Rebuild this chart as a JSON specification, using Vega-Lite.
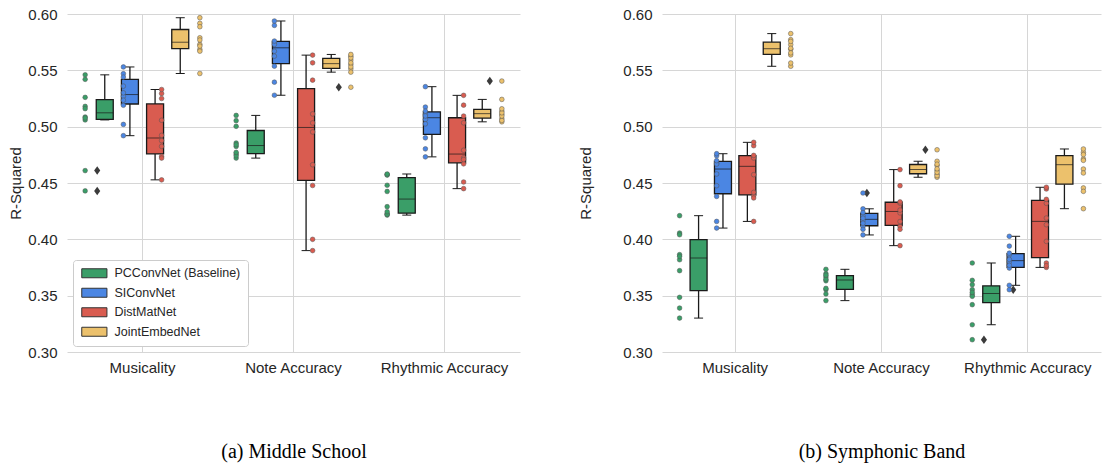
{
  "$schema": "https://vega.github.io/schema/vega-lite/v6.json",
  "background": "white",
  "padding": {"left": 8, "top": 7, "right": 3, "bottom": 5},
  "config": {
    "view": {"stroke": null},
    "font": "Liberation Sans",
    "axis": {"labelFontSize": 15, "labelColor": "#262626", "titleFontSize": 15, "titleFontWeight": "normal", "titleColor": "#262626", "gridColor": "#d6d6d6", "gridWidth": 1, "domain": false, "ticks": false},
    "concat": {"spacing": 58}
  },
  "resolve": {"scale": {"color": "independent"}, "legend": {"color": "independent"}},
  "datasets": {
    "ms": [
      {"task":"Musicality","model":"PCConvNet (Baseline)","fold":1,"r2":0.443},{"task":"Musicality","model":"PCConvNet (Baseline)","fold":2,"r2":0.461},{"task":"Musicality","model":"PCConvNet (Baseline)","fold":3,"r2":0.506},{"task":"Musicality","model":"PCConvNet (Baseline)","fold":4,"r2":0.5077},{"task":"Musicality","model":"PCConvNet (Baseline)","fold":5,"r2":0.5086},{"task":"Musicality","model":"PCConvNet (Baseline)","fold":6,"r2":0.516},{"task":"Musicality","model":"PCConvNet (Baseline)","fold":7,"r2":0.518},{"task":"Musicality","model":"PCConvNet (Baseline)","fold":8,"r2":0.526},{"task":"Musicality","model":"PCConvNet (Baseline)","fold":9,"r2":0.542},{"task":"Musicality","model":"PCConvNet (Baseline)","fold":10,"r2":0.546},
      {"task":"Musicality","model":"SIConvNet","fold":1,"r2":0.492},{"task":"Musicality","model":"SIConvNet","fold":2,"r2":0.502},{"task":"Musicality","model":"SIConvNet","fold":3,"r2":0.519},{"task":"Musicality","model":"SIConvNet","fold":4,"r2":0.5235},{"task":"Musicality","model":"SIConvNet","fold":5,"r2":0.527},{"task":"Musicality","model":"SIConvNet","fold":6,"r2":0.530},{"task":"Musicality","model":"SIConvNet","fold":7,"r2":0.536},{"task":"Musicality","model":"SIConvNet","fold":8,"r2":0.544},{"task":"Musicality","model":"SIConvNet","fold":9,"r2":0.547},{"task":"Musicality","model":"SIConvNet","fold":10,"r2":0.553},
      {"task":"Musicality","model":"DistMatNet","fold":1,"r2":0.4528},{"task":"Musicality","model":"DistMatNet","fold":2,"r2":0.4721},{"task":"Musicality","model":"DistMatNet","fold":3,"r2":0.4736},{"task":"Musicality","model":"DistMatNet","fold":4,"r2":0.4825},{"task":"Musicality","model":"DistMatNet","fold":5,"r2":0.4876},{"task":"Musicality","model":"DistMatNet","fold":6,"r2":0.4923},{"task":"Musicality","model":"DistMatNet","fold":7,"r2":0.5057},{"task":"Musicality","model":"DistMatNet","fold":8,"r2":0.525},{"task":"Musicality","model":"DistMatNet","fold":9,"r2":0.5294},{"task":"Musicality","model":"DistMatNet","fold":10,"r2":0.533},
      {"task":"Musicality","model":"JointEmbedNet","fold":1,"r2":0.5472},{"task":"Musicality","model":"JointEmbedNet","fold":2,"r2":0.567},{"task":"Musicality","model":"JointEmbedNet","fold":3,"r2":0.5685},{"task":"Musicality","model":"JointEmbedNet","fold":4,"r2":0.5715},{"task":"Musicality","model":"JointEmbedNet","fold":5,"r2":0.573},{"task":"Musicality","model":"JointEmbedNet","fold":6,"r2":0.5769},{"task":"Musicality","model":"JointEmbedNet","fold":7,"r2":0.5789},{"task":"Musicality","model":"JointEmbedNet","fold":8,"r2":0.5887},{"task":"Musicality","model":"JointEmbedNet","fold":9,"r2":0.5917},{"task":"Musicality","model":"JointEmbedNet","fold":10,"r2":0.5967},
      {"task":"Note Accuracy","model":"PCConvNet (Baseline)","fold":1,"r2":0.4721},{"task":"Note Accuracy","model":"PCConvNet (Baseline)","fold":2,"r2":0.4742},{"task":"Note Accuracy","model":"PCConvNet (Baseline)","fold":3,"r2":0.4757},{"task":"Note Accuracy","model":"PCConvNet (Baseline)","fold":4,"r2":0.4772},{"task":"Note Accuracy","model":"PCConvNet (Baseline)","fold":5,"r2":0.4825},{"task":"Note Accuracy","model":"PCConvNet (Baseline)","fold":6,"r2":0.484},{"task":"Note Accuracy","model":"PCConvNet (Baseline)","fold":7,"r2":0.4855},{"task":"Note Accuracy","model":"PCConvNet (Baseline)","fold":8,"r2":0.5003},{"task":"Note Accuracy","model":"PCConvNet (Baseline)","fold":9,"r2":0.5053},{"task":"Note Accuracy","model":"PCConvNet (Baseline)","fold":10,"r2":0.51},
      {"task":"Note Accuracy","model":"SIConvNet","fold":1,"r2":0.5279},{"task":"Note Accuracy","model":"SIConvNet","fold":2,"r2":0.5395},{"task":"Note Accuracy","model":"SIConvNet","fold":3,"r2":0.5537},{"task":"Note Accuracy","model":"SIConvNet","fold":4,"r2":0.5626},{"task":"Note Accuracy","model":"SIConvNet","fold":5,"r2":0.567},{"task":"Note Accuracy","model":"SIConvNet","fold":6,"r2":0.573},{"task":"Note Accuracy","model":"SIConvNet","fold":7,"r2":0.5745},{"task":"Note Accuracy","model":"SIConvNet","fold":8,"r2":0.576},{"task":"Note Accuracy","model":"SIConvNet","fold":9,"r2":0.5899},{"task":"Note Accuracy","model":"SIConvNet","fold":10,"r2":0.5938},
      {"task":"Note Accuracy","model":"DistMatNet","fold":1,"r2":0.39},{"task":"Note Accuracy","model":"DistMatNet","fold":2,"r2":0.40},{"task":"Note Accuracy","model":"DistMatNet","fold":3,"r2":0.4478},{"task":"Note Accuracy","model":"DistMatNet","fold":4,"r2":0.4662},{"task":"Note Accuracy","model":"DistMatNet","fold":5,"r2":0.4953},{"task":"Note Accuracy","model":"DistMatNet","fold":6,"r2":0.5033},{"task":"Note Accuracy","model":"DistMatNet","fold":7,"r2":0.5113},{"task":"Note Accuracy","model":"DistMatNet","fold":8,"r2":0.5413},{"task":"Note Accuracy","model":"DistMatNet","fold":9,"r2":0.5567},{"task":"Note Accuracy","model":"DistMatNet","fold":10,"r2":0.5635},
      {"task":"Note Accuracy","model":"JointEmbedNet","fold":1,"r2":0.535},{"task":"Note Accuracy","model":"JointEmbedNet","fold":2,"r2":0.5484},{"task":"Note Accuracy","model":"JointEmbedNet","fold":3,"r2":0.5513},{"task":"Note Accuracy","model":"JointEmbedNet","fold":4,"r2":0.5531},{"task":"Note Accuracy","model":"JointEmbedNet","fold":5,"r2":0.5552},{"task":"Note Accuracy","model":"JointEmbedNet","fold":6,"r2":0.5567},{"task":"Note Accuracy","model":"JointEmbedNet","fold":7,"r2":0.5591},{"task":"Note Accuracy","model":"JointEmbedNet","fold":8,"r2":0.5611},{"task":"Note Accuracy","model":"JointEmbedNet","fold":9,"r2":0.5626},{"task":"Note Accuracy","model":"JointEmbedNet","fold":10,"r2":0.5641},
      {"task":"Rhythmic Accuracy","model":"PCConvNet (Baseline)","fold":1,"r2":0.4215},{"task":"Rhythmic Accuracy","model":"PCConvNet (Baseline)","fold":2,"r2":0.4222},{"task":"Rhythmic Accuracy","model":"PCConvNet (Baseline)","fold":3,"r2":0.4228},{"task":"Rhythmic Accuracy","model":"PCConvNet (Baseline)","fold":4,"r2":0.4245},{"task":"Rhythmic Accuracy","model":"PCConvNet (Baseline)","fold":5,"r2":0.429},{"task":"Rhythmic Accuracy","model":"PCConvNet (Baseline)","fold":6,"r2":0.4425},{"task":"Rhythmic Accuracy","model":"PCConvNet (Baseline)","fold":7,"r2":0.448},{"task":"Rhythmic Accuracy","model":"PCConvNet (Baseline)","fold":8,"r2":0.457},{"task":"Rhythmic Accuracy","model":"PCConvNet (Baseline)","fold":9,"r2":0.4575},{"task":"Rhythmic Accuracy","model":"PCConvNet (Baseline)","fold":10,"r2":0.458},
      {"task":"Rhythmic Accuracy","model":"SIConvNet","fold":1,"r2":0.4732},{"task":"Rhythmic Accuracy","model":"SIConvNet","fold":2,"r2":0.4803},{"task":"Rhythmic Accuracy","model":"SIConvNet","fold":3,"r2":0.4901},{"task":"Rhythmic Accuracy","model":"SIConvNet","fold":4,"r2":0.5025},{"task":"Rhythmic Accuracy","model":"SIConvNet","fold":5,"r2":0.5064},{"task":"Rhythmic Accuracy","model":"SIConvNet","fold":6,"r2":0.5095},{"task":"Rhythmic Accuracy","model":"SIConvNet","fold":7,"r2":0.5108},{"task":"Rhythmic Accuracy","model":"SIConvNet","fold":8,"r2":0.5138},{"task":"Rhythmic Accuracy","model":"SIConvNet","fold":9,"r2":0.5174},{"task":"Rhythmic Accuracy","model":"SIConvNet","fold":10,"r2":0.5355},
      {"task":"Rhythmic Accuracy","model":"DistMatNet","fold":1,"r2":0.445},{"task":"Rhythmic Accuracy","model":"DistMatNet","fold":2,"r2":0.4509},{"task":"Rhythmic Accuracy","model":"DistMatNet","fold":3,"r2":0.467},{"task":"Rhythmic Accuracy","model":"DistMatNet","fold":4,"r2":0.4708},{"task":"Rhythmic Accuracy","model":"DistMatNet","fold":5,"r2":0.4723},{"task":"Rhythmic Accuracy","model":"DistMatNet","fold":6,"r2":0.4791},{"task":"Rhythmic Accuracy","model":"DistMatNet","fold":7,"r2":0.5034},{"task":"Rhythmic Accuracy","model":"DistMatNet","fold":8,"r2":0.5094},{"task":"Rhythmic Accuracy","model":"DistMatNet","fold":9,"r2":0.5191},{"task":"Rhythmic Accuracy","model":"DistMatNet","fold":10,"r2":0.5278},
      {"task":"Rhythmic Accuracy","model":"JointEmbedNet","fold":1,"r2":0.5043},{"task":"Rhythmic Accuracy","model":"JointEmbedNet","fold":2,"r2":0.5055},{"task":"Rhythmic Accuracy","model":"JointEmbedNet","fold":3,"r2":0.507},{"task":"Rhythmic Accuracy","model":"JointEmbedNet","fold":4,"r2":0.5094},{"task":"Rhythmic Accuracy","model":"JointEmbedNet","fold":5,"r2":0.5108},{"task":"Rhythmic Accuracy","model":"JointEmbedNet","fold":6,"r2":0.5123},{"task":"Rhythmic Accuracy","model":"JointEmbedNet","fold":7,"r2":0.5138},{"task":"Rhythmic Accuracy","model":"JointEmbedNet","fold":8,"r2":0.5159},{"task":"Rhythmic Accuracy","model":"JointEmbedNet","fold":9,"r2":0.5242},{"task":"Rhythmic Accuracy","model":"JointEmbedNet","fold":10,"r2":0.5405}
    ],
    "sb": [
      {"task":"Musicality","model":"PCConvNet (Baseline)","fold":1,"r2":0.3301},{"task":"Musicality","model":"PCConvNet (Baseline)","fold":2,"r2":0.339},{"task":"Musicality","model":"PCConvNet (Baseline)","fold":3,"r2":0.3485},{"task":"Musicality","model":"PCConvNet (Baseline)","fold":4,"r2":0.3722},{"task":"Musicality","model":"PCConvNet (Baseline)","fold":5,"r2":0.3819},{"task":"Musicality","model":"PCConvNet (Baseline)","fold":6,"r2":0.3849},{"task":"Musicality","model":"PCConvNet (Baseline)","fold":7,"r2":0.3864},{"task":"Musicality","model":"PCConvNet (Baseline)","fold":8,"r2":0.4041},{"task":"Musicality","model":"PCConvNet (Baseline)","fold":9,"r2":0.4056},{"task":"Musicality","model":"PCConvNet (Baseline)","fold":10,"r2":0.421},
      {"task":"Musicality","model":"SIConvNet","fold":1,"r2":0.41},{"task":"Musicality","model":"SIConvNet","fold":2,"r2":0.4159},{"task":"Musicality","model":"SIConvNet","fold":3,"r2":0.4381},{"task":"Musicality","model":"SIConvNet","fold":4,"r2":0.4476},{"task":"Musicality","model":"SIConvNet","fold":5,"r2":0.458},{"task":"Musicality","model":"SIConvNet","fold":6,"r2":0.4668},{"task":"Musicality","model":"SIConvNet","fold":7,"r2":0.4675},{"task":"Musicality","model":"SIConvNet","fold":8,"r2":0.4698},{"task":"Musicality","model":"SIConvNet","fold":9,"r2":0.4742},{"task":"Musicality","model":"SIConvNet","fold":10,"r2":0.476},
      {"task":"Musicality","model":"DistMatNet","fold":1,"r2":0.4159},{"task":"Musicality","model":"DistMatNet","fold":2,"r2":0.4367},{"task":"Musicality","model":"DistMatNet","fold":3,"r2":0.4387},{"task":"Musicality","model":"DistMatNet","fold":4,"r2":0.4417},{"task":"Musicality","model":"DistMatNet","fold":5,"r2":0.4574},{"task":"Musicality","model":"DistMatNet","fold":6,"r2":0.4722},{"task":"Musicality","model":"DistMatNet","fold":7,"r2":0.4735},{"task":"Musicality","model":"DistMatNet","fold":8,"r2":0.4745},{"task":"Musicality","model":"DistMatNet","fold":9,"r2":0.4831},{"task":"Musicality","model":"DistMatNet","fold":10,"r2":0.4861},
      {"task":"Musicality","model":"JointEmbedNet","fold":1,"r2":0.5536},{"task":"Musicality","model":"JointEmbedNet","fold":2,"r2":0.5565},{"task":"Musicality","model":"JointEmbedNet","fold":3,"r2":0.5637},{"task":"Musicality","model":"JointEmbedNet","fold":4,"r2":0.5655},{"task":"Musicality","model":"JointEmbedNet","fold":5,"r2":0.5688},{"task":"Musicality","model":"JointEmbedNet","fold":6,"r2":0.5696},{"task":"Musicality","model":"JointEmbedNet","fold":7,"r2":0.5728},{"task":"Musicality","model":"JointEmbedNet","fold":8,"r2":0.5757},{"task":"Musicality","model":"JointEmbedNet","fold":9,"r2":0.5772},{"task":"Musicality","model":"JointEmbedNet","fold":10,"r2":0.5826},
      {"task":"Note Accuracy","model":"PCConvNet (Baseline)","fold":1,"r2":0.3456},{"task":"Note Accuracy","model":"PCConvNet (Baseline)","fold":2,"r2":0.3515},{"task":"Note Accuracy","model":"PCConvNet (Baseline)","fold":3,"r2":0.3553},{"task":"Note Accuracy","model":"PCConvNet (Baseline)","fold":4,"r2":0.3565},{"task":"Note Accuracy","model":"PCConvNet (Baseline)","fold":5,"r2":0.3632},{"task":"Note Accuracy","model":"PCConvNet (Baseline)","fold":6,"r2":0.3646},{"task":"Note Accuracy","model":"PCConvNet (Baseline)","fold":7,"r2":0.3665},{"task":"Note Accuracy","model":"PCConvNet (Baseline)","fold":8,"r2":0.3682},{"task":"Note Accuracy","model":"PCConvNet (Baseline)","fold":9,"r2":0.3695},{"task":"Note Accuracy","model":"PCConvNet (Baseline)","fold":10,"r2":0.3734},
      {"task":"Note Accuracy","model":"SIConvNet","fold":1,"r2":0.4039},{"task":"Note Accuracy","model":"SIConvNet","fold":2,"r2":0.4089},{"task":"Note Accuracy","model":"SIConvNet","fold":3,"r2":0.4113},{"task":"Note Accuracy","model":"SIConvNet","fold":4,"r2":0.4143},{"task":"Note Accuracy","model":"SIConvNet","fold":5,"r2":0.4167},{"task":"Note Accuracy","model":"SIConvNet","fold":6,"r2":0.4188},{"task":"Note Accuracy","model":"SIConvNet","fold":7,"r2":0.4208},{"task":"Note Accuracy","model":"SIConvNet","fold":8,"r2":0.4238},{"task":"Note Accuracy","model":"SIConvNet","fold":9,"r2":0.4271},{"task":"Note Accuracy","model":"SIConvNet","fold":10,"r2":0.4411},
      {"task":"Note Accuracy","model":"DistMatNet","fold":1,"r2":0.3944},{"task":"Note Accuracy","model":"DistMatNet","fold":2,"r2":0.4089},{"task":"Note Accuracy","model":"DistMatNet","fold":3,"r2":0.4113},{"task":"Note Accuracy","model":"DistMatNet","fold":4,"r2":0.4158},{"task":"Note Accuracy","model":"DistMatNet","fold":5,"r2":0.4235},{"task":"Note Accuracy","model":"DistMatNet","fold":6,"r2":0.426},{"task":"Note Accuracy","model":"DistMatNet","fold":7,"r2":0.4321},{"task":"Note Accuracy","model":"DistMatNet","fold":8,"r2":0.4332},{"task":"Note Accuracy","model":"DistMatNet","fold":9,"r2":0.4476},{"task":"Note Accuracy","model":"DistMatNet","fold":10,"r2":0.4619},
      {"task":"Note Accuracy","model":"JointEmbedNet","fold":1,"r2":0.4551},{"task":"Note Accuracy","model":"JointEmbedNet","fold":2,"r2":0.4565},{"task":"Note Accuracy","model":"JointEmbedNet","fold":3,"r2":0.4578},{"task":"Note Accuracy","model":"JointEmbedNet","fold":4,"r2":0.4595},{"task":"Note Accuracy","model":"JointEmbedNet","fold":5,"r2":0.4612},{"task":"Note Accuracy","model":"JointEmbedNet","fold":6,"r2":0.4626},{"task":"Note Accuracy","model":"JointEmbedNet","fold":7,"r2":0.4655},{"task":"Note Accuracy","model":"JointEmbedNet","fold":8,"r2":0.4667},{"task":"Note Accuracy","model":"JointEmbedNet","fold":9,"r2":0.4693},{"task":"Note Accuracy","model":"JointEmbedNet","fold":10,"r2":0.4795},
      {"task":"Rhythmic Accuracy","model":"PCConvNet (Baseline)","fold":1,"r2":0.3109},{"task":"Rhythmic Accuracy","model":"PCConvNet (Baseline)","fold":2,"r2":0.3242},{"task":"Rhythmic Accuracy","model":"PCConvNet (Baseline)","fold":3,"r2":0.342},{"task":"Rhythmic Accuracy","model":"PCConvNet (Baseline)","fold":4,"r2":0.3494},{"task":"Rhythmic Accuracy","model":"PCConvNet (Baseline)","fold":5,"r2":0.3509},{"task":"Rhythmic Accuracy","model":"PCConvNet (Baseline)","fold":6,"r2":0.3529},{"task":"Rhythmic Accuracy","model":"PCConvNet (Baseline)","fold":7,"r2":0.3553},{"task":"Rhythmic Accuracy","model":"PCConvNet (Baseline)","fold":8,"r2":0.3598},{"task":"Rhythmic Accuracy","model":"PCConvNet (Baseline)","fold":9,"r2":0.3636},{"task":"Rhythmic Accuracy","model":"PCConvNet (Baseline)","fold":10,"r2":0.379},
      {"task":"Rhythmic Accuracy","model":"SIConvNet","fold":1,"r2":0.3553},{"task":"Rhythmic Accuracy","model":"SIConvNet","fold":2,"r2":0.3592},{"task":"Rhythmic Accuracy","model":"SIConvNet","fold":3,"r2":0.3745},{"task":"Rhythmic Accuracy","model":"SIConvNet","fold":4,"r2":0.377},{"task":"Rhythmic Accuracy","model":"SIConvNet","fold":5,"r2":0.38},{"task":"Rhythmic Accuracy","model":"SIConvNet","fold":6,"r2":0.3822},{"task":"Rhythmic Accuracy","model":"SIConvNet","fold":7,"r2":0.3862},{"task":"Rhythmic Accuracy","model":"SIConvNet","fold":8,"r2":0.3877},{"task":"Rhythmic Accuracy","model":"SIConvNet","fold":9,"r2":0.394},{"task":"Rhythmic Accuracy","model":"SIConvNet","fold":10,"r2":0.4027},
      {"task":"Rhythmic Accuracy","model":"DistMatNet","fold":1,"r2":0.3751},{"task":"Rhythmic Accuracy","model":"DistMatNet","fold":2,"r2":0.3766},{"task":"Rhythmic Accuracy","model":"DistMatNet","fold":3,"r2":0.379},{"task":"Rhythmic Accuracy","model":"DistMatNet","fold":4,"r2":0.3982},{"task":"Rhythmic Accuracy","model":"DistMatNet","fold":5,"r2":0.413},{"task":"Rhythmic Accuracy","model":"DistMatNet","fold":6,"r2":0.4189},{"task":"Rhythmic Accuracy","model":"DistMatNet","fold":7,"r2":0.432},{"task":"Rhythmic Accuracy","model":"DistMatNet","fold":8,"r2":0.4355},{"task":"Rhythmic Accuracy","model":"DistMatNet","fold":9,"r2":0.4447},{"task":"Rhythmic Accuracy","model":"DistMatNet","fold":10,"r2":0.4462},
      {"task":"Rhythmic Accuracy","model":"JointEmbedNet","fold":1,"r2":0.4272},{"task":"Rhythmic Accuracy","model":"JointEmbedNet","fold":2,"r2":0.4426},{"task":"Rhythmic Accuracy","model":"JointEmbedNet","fold":3,"r2":0.4456},{"task":"Rhythmic Accuracy","model":"JointEmbedNet","fold":4,"r2":0.4589},{"task":"Rhythmic Accuracy","model":"JointEmbedNet","fold":5,"r2":0.4624},{"task":"Rhythmic Accuracy","model":"JointEmbedNet","fold":6,"r2":0.4701},{"task":"Rhythmic Accuracy","model":"JointEmbedNet","fold":7,"r2":0.4713},{"task":"Rhythmic Accuracy","model":"JointEmbedNet","fold":8,"r2":0.4752},{"task":"Rhythmic Accuracy","model":"JointEmbedNet","fold":9,"r2":0.4772},{"task":"Rhythmic Accuracy","model":"JointEmbedNet","fold":10,"r2":0.4802}
    ]
  },
  "hconcat": [
    {
      "width": 453, "height": 338,
      "data": {"name": "ms"},
      "encoding": {
        "x": {"field": "task", "type": "nominal", "sort": ["Musicality","Note Accuracy","Rhythmic Accuracy"], "scale": {"paddingInner": 0, "paddingOuter": 0},
              "axis": {"title": "(a) Middle School", "titleFont": "Liberation Serif", "titleFontSize": 20, "titleColor": "black", "titlePadding": 66, "labelAngle": 0, "labelPadding": 8, "bandPosition": 0.5, "grid": true}},
        "y": {"field": "r2", "type": "quantitative", "scale": {"domain": [0.3, 0.6], "nice": false, "zero": false},
              "axis": {"title": "R-Squared", "values": [0.3,0.35,0.4,0.45,0.5,0.55,0.6], "format": ".2f", "labelPadding": 10, "titlePadding": 4}}
      },
      "layer": [
        {
          "mark": {"type": "boxplot", "extent": 1.5, "size": 17, "outliers": false,
                   "box": {"stroke": "#1a1a1a", "strokeWidth": 1.3},
                   "median": {"color": "#1a1a1a", "strokeWidth": 1.3},
                   "rule": {"color": "#1a1a1a", "strokeWidth": 1.3},
                   "ticks": {"color": "#1a1a1a", "size": 9, "strokeWidth": 1.3}},
          "encoding": {
            "xOffset": {"field": "model", "sort": ["PCConvNet (Baseline)","SIConvNet","DistMatNet","JointEmbedNet"], "scale": {"domain": ["PCConvNet (Baseline)","SIConvNet","DistMatNet","JointEmbedNet"], "paddingInner": 0, "paddingOuter": 1.97}},
            "color": {"field": "model", "type": "nominal",
                      "scale": {"domain": ["PCConvNet (Baseline)","SIConvNet","DistMatNet","JointEmbedNet"], "range": ["#3a9e68","#4b86e3","#d95c50","#ecc16c"]},
                      "legend": {"title": null, "orient": "bottom-left", "offset": 6, "fillColor": "white", "strokeColor": "#cccccc", "cornerRadius": 3, "padding": 7,
                                 "labelFontSize": 12.5, "labelColor": "#262626", "symbolType": "M-1,-1H4.6V1H-1Z", "symbolSize": 81, "symbolStrokeColor": "#333333", "symbolStrokeWidth": 1, "symbolOpacity": 1, "labelOffset": 22, "rowPadding": 5.5}}
          }
        },
        {
          "transform": [
            {"joinaggregate": [{"op": "q1", "field": "r2", "as": "lo"}, {"op": "q3", "field": "r2", "as": "hi"}], "groupby": ["task", "model"]},
            {"filter": "datum.r2 < datum.lo - 1.5 * (datum.hi - datum.lo) || datum.r2 > datum.hi + 1.5 * (datum.hi - datum.lo)"}
          ],
          "mark": {"type": "point", "shape": "M0,-1L0.72,0L0,1L-0.72,0Z", "filled": true, "color": "#3b3b3b", "size": 72, "opacity": 1},
          "encoding": {
            "xOffset": {"field": "model", "scale": {"domain": ["PCConvNet (Baseline)","SIConvNet","DistMatNet","JointEmbedNet"], "paddingInner": 0, "paddingOuter": 1.97}}
          }
        },
        {
          "transform": [{"filter": "datum.fold % 2 == 1"}],
          "mark": {"type": "point", "filled": true, "size": 22, "stroke": "#555555", "strokeWidth": 0.5, "opacity": 1, "dx": -2},
          "encoding": {
            "xOffset": {"field": "model", "scale": {"domain": ["PCConvNet (Baseline)","SIConvNet","DistMatNet","JointEmbedNet"], "paddingInner": 0, "paddingOuter": 0.475}},
            "color": {"field": "model", "type": "nominal", "legend": null}
          }
        },
        {
          "transform": [{"filter": "datum.fold % 2 == 0"}],
          "mark": {"type": "point", "filled": true, "size": 22, "stroke": "#555555", "strokeWidth": 0.5, "opacity": 1, "dx": 2},
          "encoding": {
            "xOffset": {"field": "model", "scale": {"domain": ["PCConvNet (Baseline)","SIConvNet","DistMatNet","JointEmbedNet"], "paddingInner": 0, "paddingOuter": 0.475}},
            "color": {"field": "model", "type": "nominal", "legend": null}
          }
        }
      ],
      "resolve": {"scale": {"xOffset": "independent"}}
    },
    {
      "width": 439, "height": 338,
      "data": {"name": "sb"},
      "encoding": {
        "x": {"field": "task", "type": "nominal", "sort": ["Musicality","Note Accuracy","Rhythmic Accuracy"], "scale": {"paddingInner": 0, "paddingOuter": 0},
              "axis": {"title": "(b) Symphonic Band", "titleFont": "Liberation Serif", "titleFontSize": 20, "titleColor": "black", "titlePadding": 66, "labelAngle": 0, "labelPadding": 8, "bandPosition": 0.5, "grid": true}},
        "y": {"field": "r2", "type": "quantitative", "scale": {"domain": [0.3, 0.6], "nice": false, "zero": false},
              "axis": {"title": "R-Squared", "values": [0.3,0.35,0.4,0.45,0.5,0.55,0.6], "format": ".2f", "labelPadding": 10, "titlePadding": 29}}
      },
      "layer": [
        {
          "mark": {"type": "boxplot", "extent": 1.5, "size": 17, "outliers": false,
                   "box": {"stroke": "#1a1a1a", "strokeWidth": 1.3},
                   "median": {"color": "#1a1a1a", "strokeWidth": 1.3},
                   "rule": {"color": "#1a1a1a", "strokeWidth": 1.3},
                   "ticks": {"color": "#1a1a1a", "size": 9, "strokeWidth": 1.3}},
          "encoding": {
            "xOffset": {"field": "model", "sort": ["PCConvNet (Baseline)","SIConvNet","DistMatNet","JointEmbedNet"], "scale": {"domain": ["PCConvNet (Baseline)","SIConvNet","DistMatNet","JointEmbedNet"], "paddingInner": 0, "paddingOuter": 1.97}},
            "color": {"field": "model", "type": "nominal",
                      "scale": {"domain": ["PCConvNet (Baseline)","SIConvNet","DistMatNet","JointEmbedNet"], "range": ["#3a9e68","#4b86e3","#d95c50","#ecc16c"]},
                      "legend": null}
          }
        },
        {
          "transform": [
            {"joinaggregate": [{"op": "q1", "field": "r2", "as": "lo"}, {"op": "q3", "field": "r2", "as": "hi"}], "groupby": ["task", "model"]},
            {"filter": "datum.r2 < datum.lo - 1.5 * (datum.hi - datum.lo) || datum.r2 > datum.hi + 1.5 * (datum.hi - datum.lo)"}
          ],
          "mark": {"type": "point", "shape": "M0,-1L0.72,0L0,1L-0.72,0Z", "filled": true, "color": "#3b3b3b", "size": 72, "opacity": 1},
          "encoding": {
            "xOffset": {"field": "model", "scale": {"domain": ["PCConvNet (Baseline)","SIConvNet","DistMatNet","JointEmbedNet"], "paddingInner": 0, "paddingOuter": 1.97}}
          }
        },
        {
          "transform": [{"filter": "datum.fold % 2 == 1"}],
          "mark": {"type": "point", "filled": true, "size": 22, "stroke": "#555555", "strokeWidth": 0.5, "opacity": 1, "dx": -2},
          "encoding": {
            "xOffset": {"field": "model", "scale": {"domain": ["PCConvNet (Baseline)","SIConvNet","DistMatNet","JointEmbedNet"], "paddingInner": 0, "paddingOuter": 0.475}},
            "color": {"field": "model", "type": "nominal", "legend": null}
          }
        },
        {
          "transform": [{"filter": "datum.fold % 2 == 0"}],
          "mark": {"type": "point", "filled": true, "size": 22, "stroke": "#555555", "strokeWidth": 0.5, "opacity": 1, "dx": 2},
          "encoding": {
            "xOffset": {"field": "model", "scale": {"domain": ["PCConvNet (Baseline)","SIConvNet","DistMatNet","JointEmbedNet"], "paddingInner": 0, "paddingOuter": 0.475}},
            "color": {"field": "model", "type": "nominal", "legend": null}
          }
        }
      ],
      "resolve": {"scale": {"xOffset": "independent"}}
    }
  ]
}
